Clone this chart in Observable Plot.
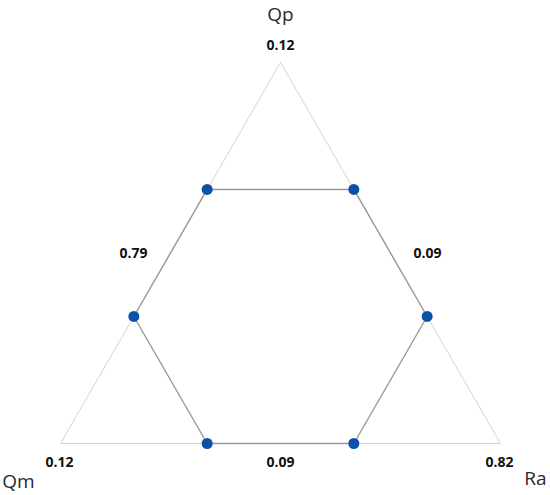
<!DOCTYPE html>
<html>
<head>
<meta charset="utf-8">
<script src="https://cdn.jsdelivr.net/npm/d3@7"></script>
<script src="https://cdn.jsdelivr.net/npm/@observablehq/plot@0.6"></script>
<style>
  html, body { margin: 0; padding: 0; background: #fff; }
</style>
</head>
<body>
<div id="chart"></div>
<script>
// Vertices of the ternary triangle (components)
const components = ["Qp", "Qm", "Ra"];
const vertexValues = [0.12, 0.12, 0.82];
// Side labels: side between listed vertex pairs
const sides = [["Qp", "Qm"], ["Qp", "Ra"], ["Qm", "Ra"]];
const sideValues = [0.79, 0.09, 0.09];
// Hexagon points in barycentric fractions [Qp, Qm, Ra]
const pointQp = [2/3, 1/3, 0, 0, 1/3, 2/3];
const pointQm = [1/3, 2/3, 2/3, 1/3, 0, 0];
const pointRa = [0, 0, 1/3, 2/3, 2/3, 1/3];

// corners in unit-side triangle coordinates
const corner = {Qp: [0.5, Math.sqrt(3) / 2], Qm: [0, 0], Ra: [1, 0]};
function project(a, b, c) {
  const s = a + b + c;
  return [
    (a * corner.Qp[0] + b * corner.Qm[0] + c * corner.Ra[0]) / s,
    (a * corner.Qp[1] + b * corner.Qm[1] + c * corner.Ra[1]) / s
  ];
}

const triangle = [...components, components[0]].map(k => ({x: corner[k][0], y: corner[k][1]}));
const hexagon = pointQp.map((a, i) => {
  const [x, y] = project(a, pointQm[i], pointRa[i]);
  return {x, y};
});
const hexClosed = [...hexagon, hexagon[0]];

const vertexLabels = components.map((k, i) => ({x: corner[k][0], y: corner[k][1], name: k, value: vertexValues[i]}));
const sideLabels = sides.map(([p, q], i) => ({
  x: (corner[p][0] + corner[q][0]) / 2,
  y: (corner[p][1] + corner[q][1]) / 2,
  value: sideValues[i],
  key: p + q
}));

const valueOffset = {Qp: [0, -17], Qm: [-1, 19], Ra: [-1, 19]};
const nameOffset = {Qp: [0, -48], Qm: [-42, 38], Ra: [35, 35]};
const sideOffset = {QpQm: [-37, 1], QpRa: [37, 1], QmRa: [0, 19]};

const font = "'Open Sans', 'Noto Sans', sans-serif";

const marks = [
  Plot.line(triangle, {x: "x", y: "y", stroke: "#d4d4d4", strokeWidth: 1}),
  Plot.line(hexClosed, {x: "x", y: "y", stroke: "#999", strokeWidth: 1.4}),
  Plot.dot(hexagon, {x: "x", y: "y", r: 5.5, fill: "#0b51a8", stroke: "none"})
];
for (const d of vertexLabels) {
  marks.push(Plot.text([d], {x: "x", y: "y", text: v => v.value.toFixed(2), dx: valueOffset[d.name][0], dy: valueOffset[d.name][1], fontSize: 14, fontWeight: "bold", fill: "#111", fontFamily: font}));
  marks.push(Plot.text([d], {x: "x", y: "y", text: "name", dx: nameOffset[d.name][0], dy: nameOffset[d.name][1], fontSize: 19, fill: "#2a2a2a", fontFamily: font}));
}
for (const d of sideLabels) {
  marks.push(Plot.text([d], {x: "x", y: "y", text: v => v.value.toFixed(2), dx: sideOffset[d.key][0], dy: sideOffset[d.key][1], fontSize: 14, fontWeight: "bold", fill: "#111", fontFamily: font}));
}

const chart = Plot.plot({
  width: 550,
  height: 495,
  margin: 0,
  x: {domain: [-60 / 440, 490 / 440], range: [0, 550], axis: null},
  y: {domain: [-52 / 440, 443 / 440], range: [495, 0], axis: null},
  style: {background: "#fff", fontFamily: font},
  marks
});
document.getElementById("chart").appendChild(chart);
</script>
</body>
</html>
